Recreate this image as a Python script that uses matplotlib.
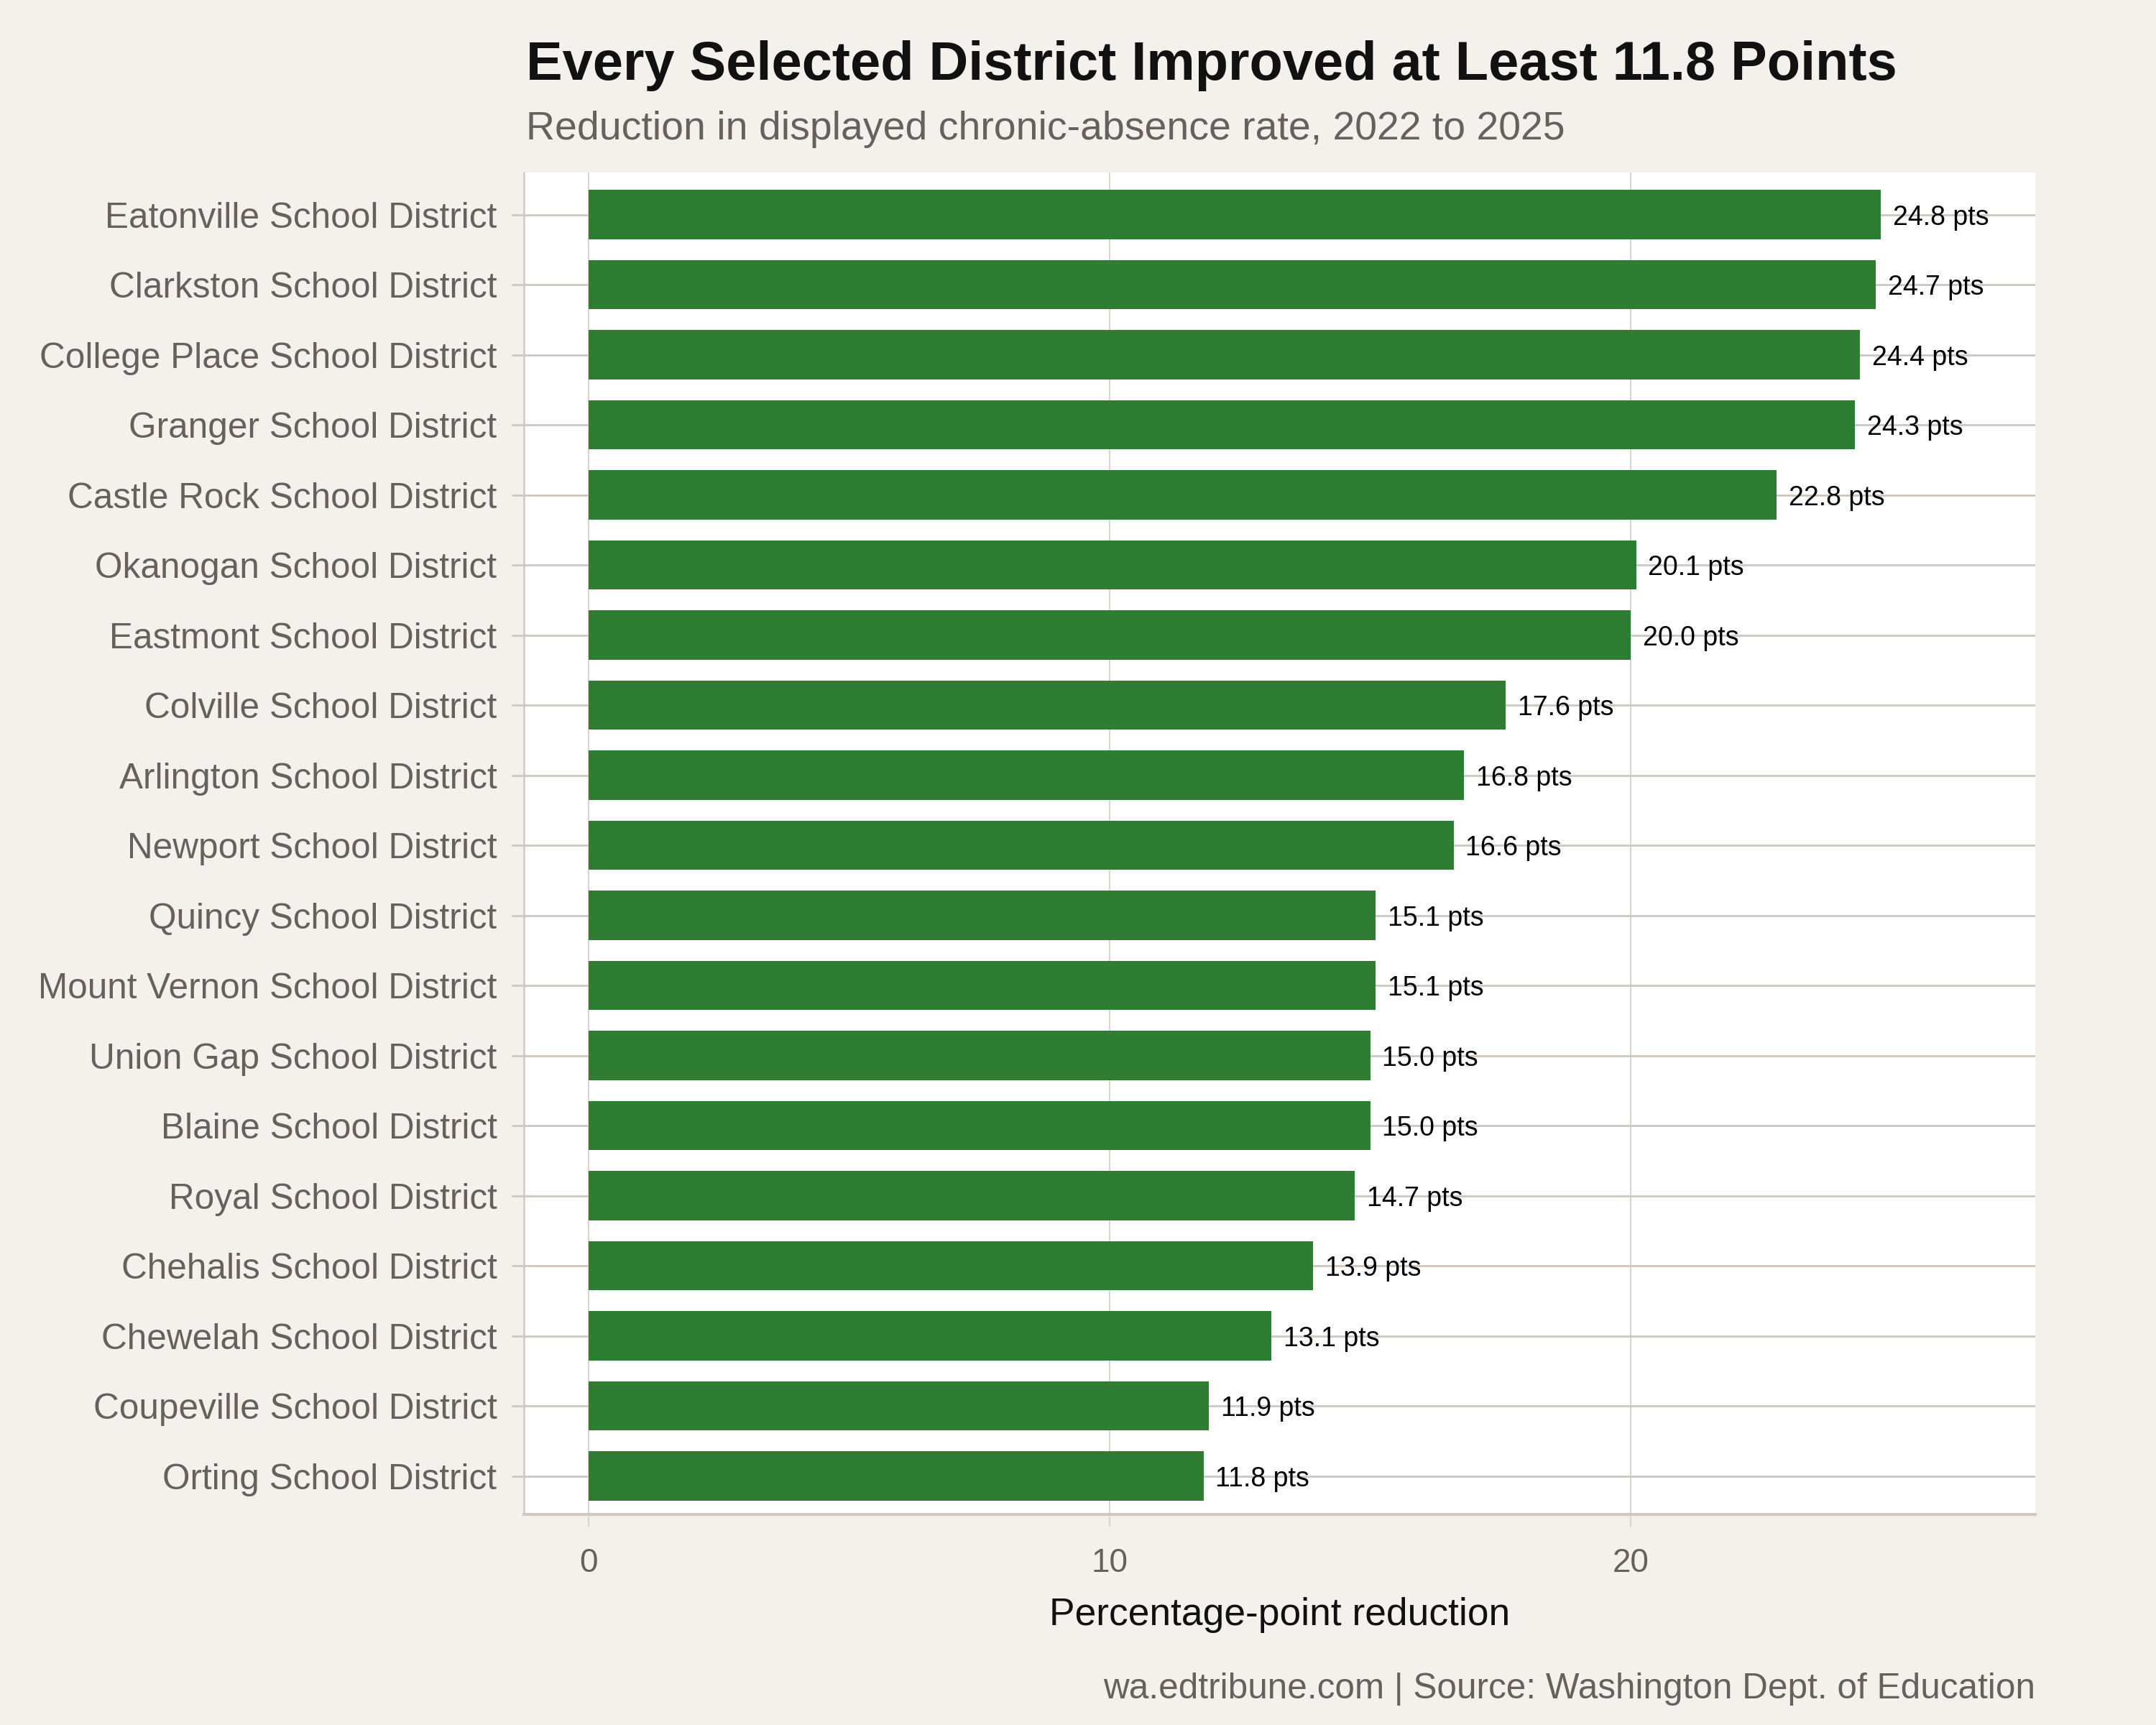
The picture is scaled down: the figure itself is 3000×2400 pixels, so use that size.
import matplotlib
matplotlib.use("Agg")
import matplotlib.pyplot as plt
import numpy as np

plt.rcParams['font.family'] = ['Liberation Sans', 'DejaVu Sans']

districts = [
    "Eatonville School District", "Clarkston School District", "College Place School District",
    "Granger School District", "Castle Rock School District", "Okanogan School District",
    "Eastmont School District", "Colville School District", "Arlington School District",
    "Newport School District", "Quincy School District", "Mount Vernon School District",
    "Union Gap School District", "Blaine School District", "Royal School District",
    "Chehalis School District", "Chewelah School District", "Coupeville School District",
    "Orting School District",
]
reductions = [24.8, 24.7, 24.4, 24.3, 22.8, 20.1, 20.0, 17.6, 16.8, 16.6,
              15.1, 15.1, 15.0, 15.0, 14.7, 13.9, 13.1, 11.9, 11.8]
x_ticks = [0, 10, 20]

title = "Every Selected District Improved at Least 11.8 Points"
subtitle = "Reduction in displayed chronic-absence rate, 2022 to 2025"
xlabel = "Percentage-point reduction"
caption = "wa.edtribune.com | Source: Washington Dept. of Education"

BG = "#F4F1EC"
GREEN = "#2E7D32"
GRID = "#CFC9C1"
GRID_X = "#DAD5CE"
GREY_TEXT = "#66615C"

fig = plt.figure(figsize=(10, 8), dpi=300, facecolor=BG)
ax = fig.add_axes([0.243, 0.122, 0.701, 0.778])
ax.set_facecolor("white")

y = np.arange(len(districts))
ax.barh(y, reductions, height=0.7, color=GREEN, zorder=3)
for yi, v in zip(y, reductions):
    ax.annotate(f"{v:.1f} pts", (v, yi), xytext=(4, 0), textcoords="offset points",
                ha="left", va="center_baseline", fontsize=9, color="black", zorder=4)

ax.set_xlim(-1.24, 27.76)
ax.set_ylim(len(districts) - 0.45, -0.6)
ax.set_yticks(y)
ax.set_yticklabels(districts, fontsize=11.9, color=GREY_TEXT)
ax.set_xticks(x_ticks)
ax.set_xticklabels([str(t) for t in x_ticks], fontsize=11, color=GREY_TEXT)

ax.grid(axis="y", color=GRID, linewidth=0.7, zorder=1)
ax.grid(axis="x", color=GRID_X, linewidth=0.5, zorder=1)
ax.set_axisbelow(True)

for s in ["top", "right"]:
    ax.spines[s].set_visible(False)
ax.spines["left"].set_color(GRID)
ax.spines["left"].set_linewidth(0.6)
ax.spines["bottom"].set_color(GRID)
ax.spines["bottom"].set_linewidth(1.0)
ax.tick_params(axis="y", length=4, width=0.7, color=GRID, pad=5)
ax.tick_params(axis="x", length=4, width=0.5, color=GRID_X, pad=7)

ax.set_xlabel(xlabel, fontsize=12.8, color="#111111", labelpad=6)

fig.text(0.244, 0.962, title, fontsize=18.2, fontweight="bold", color="#111111",
         ha="left", va="center")
fig.text(0.244, 0.925, subtitle, fontsize=13.3, color=GREY_TEXT, ha="left", va="center")
fig.text(0.944, 0.021, caption, fontsize=11.9, color=GREY_TEXT, ha="right", va="center")

fig.savefig("out.png", dpi=300, facecolor=BG)
